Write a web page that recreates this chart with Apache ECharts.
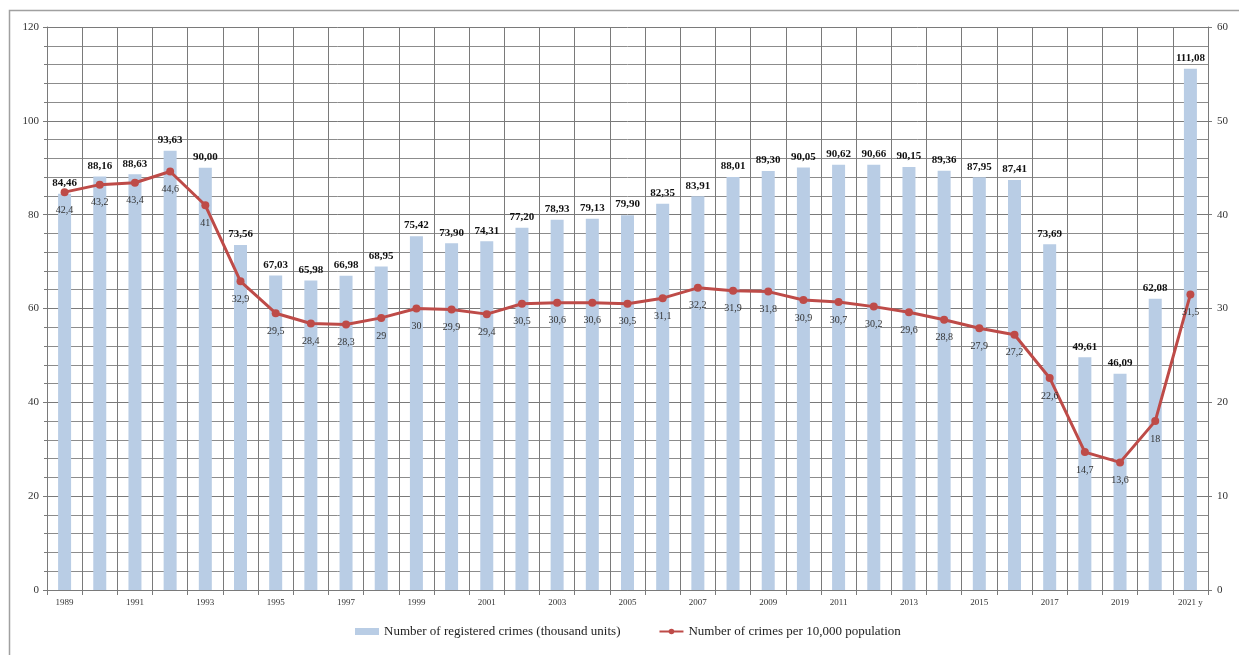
<!DOCTYPE html>
<html>
<head>
<meta charset="utf-8">
<script src="https://cdn.jsdelivr.net/npm/echarts@6/dist/echarts.min.js"></script>
<style>html,body{margin:0;padding:0;background:#fff;}#c{width:1239px;height:655px;}</style>
</head>
<body>
<div id="c"></div>
<script>
const categories = ['1989','1990','1991','1992','1993','1994','1995','1996','1997','1998','1999','2000','2001','2002','2003','2004','2005','2006','2007','2008','2009','2010','2011','2012','2013','2014','2015','2016','2017','2018','2019','2020','2021 y'];
const crimes = [84.46,88.16,88.63,93.63,90.00,73.56,67.03,65.98,66.98,68.95,75.42,73.90,74.31,77.20,78.93,79.13,79.90,82.35,83.91,88.01,89.30,90.05,90.62,90.66,90.15,89.36,87.95,87.41,73.69,49.61,46.09,62.08,111.08];
const perPop = [42.4,43.2,43.4,44.6,41,32.9,29.5,28.4,28.3,29,30,29.9,29.4,30.5,30.6,30.6,30.5,31.1,32.2,31.9,31.8,30.9,30.7,30.2,29.6,28.8,27.9,27.2,22.6,14.7,13.6,18,31.5];
const leftTicks = [0,20,40,60,80,100,120];
const rightTicks = [0,10,20,30,40,50,60];
const seriesNames = ['Number of registered crimes (thousand units)','Number of crimes per 10,000 population'];

const serif = '"Liberation Serif","DejaVu Serif",serif';
const chart = echarts.init(document.getElementById('c'));
chart.setOption({
  animation: false,
  backgroundColor: '#fff',
  graphic: [{
    type: 'rect', left: 7, top: 8, shape: {width: 1300, height: 700},
    style: {fill: 'none', stroke: '#a0a0a0', lineWidth: 1.5}, silent: true, z: -1
  }],
  grid: {left: 47, right: 31, top: 27, bottom: 65, containLabel: false},
  legend: {
    bottom: 12, left: 350, itemGap: 38, itemWidth: 24, itemHeight: 7,
    textStyle: {fontFamily: serif, fontSize: 13, color: '#222'},
    data: [{name: seriesNames[0], icon: 'rect'}, {name: seriesNames[1]}]
  },
  xAxis: {
    type: 'category', data: categories, boundaryGap: true,
    axisLine: {lineStyle: {color: '#7a7a7a'}},
    axisTick: {show: true, interval: 0, lineStyle: {color: '#7a7a7a'}},
    axisLabel: {interval: 1, fontFamily: serif, fontSize: 9, color: '#333', margin: 8},
    splitLine: {show: true, interval: 0, lineStyle: {color: '#7a7a7a', width: 1}}
  },
  yAxis: [{
    type: 'value', min: 0, max: 120, interval: 20,
    axisLine: {show: true, lineStyle: {color: '#7a7a7a'}},
    axisTick: {show: true, length: 4, lineStyle: {color: '#7a7a7a'}},
    axisLabel: {fontFamily: serif, fontSize: 11, color: '#333', margin: 8},
    splitLine: {show: true, lineStyle: {color: '#7a7a7a', width: 1}},
    minorTick: {show: true, splitNumber: 5, length: 3, lineStyle: {color: '#7a7a7a'}},
    minorSplitLine: {show: true, lineStyle: {color: '#8c8c8c', width: 1}}
  }, {
    type: 'value', min: 0, max: 60, interval: 10, position: 'right',
    axisLine: {show: true, lineStyle: {color: '#7a7a7a'}},
    axisTick: {show: true, length: 4, lineStyle: {color: '#7a7a7a'}},
    axisLabel: {fontFamily: serif, fontSize: 11, color: '#333', margin: 9},
    splitLine: {show: false}
  }],
  series: [{
    name: seriesNames[0], type: 'bar', yAxisIndex: 0, data: crimes, barWidth: 13,
    itemStyle: {color: '#b9cde5'},
    label: {
      show: true, position: 'top', distance: 5,
      fontFamily: serif, fontSize: 11, fontWeight: 'bold', color: '#111',
      formatter: p => p.value.toFixed(2).replace('.', ',')
    }
  }, {
    name: seriesNames[1], type: 'line', yAxisIndex: 1, data: perPop,
    symbol: 'circle', symbolSize: 8,
    lineStyle: {color: '#be4b48', width: 3},
    itemStyle: {color: '#be4b48'},
    label: {
      show: true, position: 'bottom', distance: 9,
      fontFamily: serif, fontSize: 10, color: '#333',
      formatter: p => String(p.value).replace('.', ',')
    },
    z: 5
  }]
});
</script>
</body>
</html>
